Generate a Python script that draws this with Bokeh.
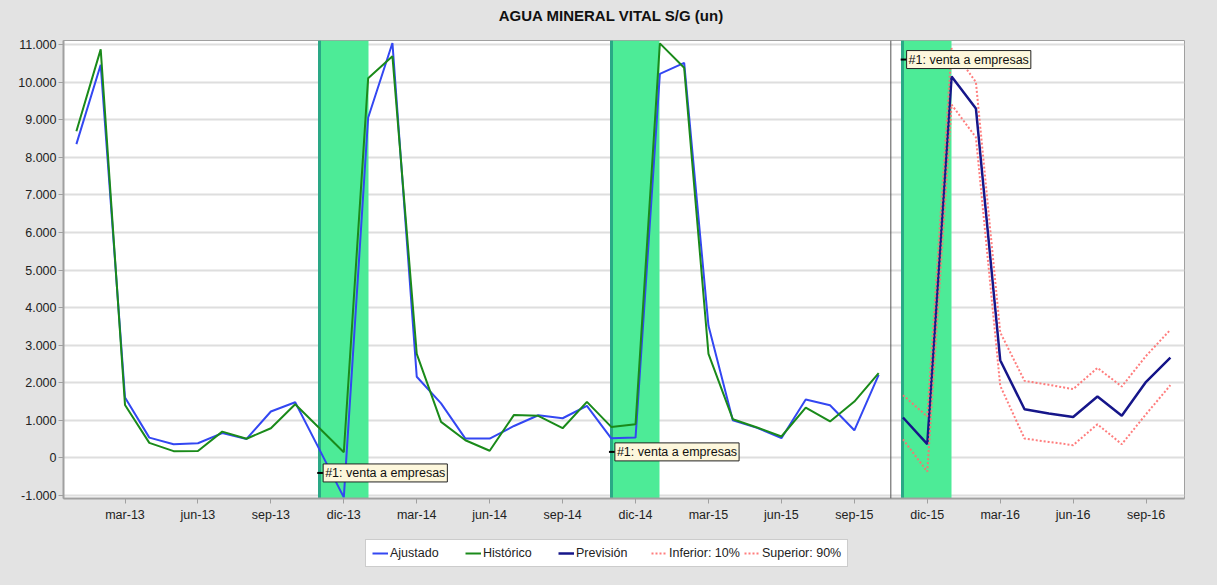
from bokeh.plotting import figure
from bokeh.layouts import column
from bokeh.models import (Range1d, FixedTicker, Legend, LegendItem, Label, Span)
from bokeh.embed import file_html
from bokeh.resources import INLINE

# ---------------- data ----------------
titulo = "AGUA MINERAL VITAL S/G (un)"
meses = ["ene", "feb", "mar", "abr", "may", "jun", "jul", "ago", "sep", "oct", "nov", "dic"]
n_meses = 46  # ene-13 .. oct-16
etiquetas = [f"{meses[i % 12]}-{13 + i // 12}" for i in range(n_meses)]

historico = [8690, 10870, 1410, 400, 180, 185, 700, 510, 790, 1430, 790, 150,
             10100, 10690, 2770, 960, 470, 190, 1145, 1120, 790, 1490, 825, 895,
             11030, 10380, 2770, 1030, 810, 570, 1340, 970, 1500, 2255]
ajustado = [8350, 10460, 1610, 540, 365, 390, 660, 505, 1235, 1480, 220, -1050,
            9050, 11040, 2160, 1450, 515, 515, 850, 1135, 1055, 1385, 520, 540,
            10220, 10510, 3515, 1000, 800, 525, 1555, 1400, 735, 2210]
prevision = [1075, 365, 10150, 9300, 2600, 1295, 1180, 1090, 1635, 1120, 2025, 2670]
superior = [1670, 1100, 10900, 10000, 3340, 2050, 1945, 1830, 2395, 1900, 2715, 3410]
inferior = [495, -365, 9400, 8530, 1920, 515, 425, 340, 895, 365, 1165, 1935]

inicio_prev = len(historico)           # nov-15
eventos_ini = [10, 22, 34]             # nov-13, nov-14, nov-15
eventos_fin = [12, 24, 36]
evento_texto = "#1: venta a empresas"
evento_y = [-400, 160, 10600]

y_ticks = list(range(-1000, 12000, 1000))
x_ticks = [i for i in range(n_meses) if i % 3 == 2]

x_hist = list(range(len(historico)))
x_prev = list(range(inicio_prev, inicio_prev + len(prevision)))

# ---------------- styles ----------------
FONT = "Liberation Sans"
BG = "#e3e3e3"
W = 1217
estilos = {
    "Ajustado": dict(line_color="#3347f2", line_width=2),
    "Histórico": dict(line_color="#1a8a1a", line_width=2),
    "Previsión": dict(line_color="#16168a", line_width=2.5),
    "Inferior: 10%": dict(line_color="#ff6f6f", line_width=2, line_dash="2 2", line_alpha=0.9),
    "Superior: 90%": dict(line_color="#ff6f6f", line_width=2, line_dash="2 2", line_alpha=0.9),
}


def strip(height):
    f = figure(width=W, height=height, output_backend="svg", toolbar_location=None,
               x_range=Range1d(0, 1121), y_range=Range1d(0, height),
               x_axis_location=None, y_axis_location=None,
               min_border_left=0, min_border_right=0, min_border_top=0, min_border_bottom=0,
               background_fill_color=None, border_fill_color=None, outline_line_color=None)
    f.grid.visible = False
    return f


# ---------------- title strip ----------------
t = strip(34)
t.add_layout(Label(x=548, y=19, text=titulo, text_font=FONT, text_font_size="15px",
                   text_font_style="bold", text_color="#111111",
                   text_align="center", text_baseline="middle"))

# ---------------- main figure ----------------
p = figure(width=W, height=496, output_backend="svg", toolbar_location=None,
           x_range=Range1d(-0.53, 45.58), y_range=Range1d(-1080, 11107),
           min_border_left=63, min_border_right=33, min_border_top=6, min_border_bottom=32,
           background_fill_color="white", border_fill_color=BG)
p.outline_line_color = "#a0a0a0"
p.outline_line_width = 1

p.xgrid.visible = False
p.ygrid.ticker = FixedTicker(ticks=y_ticks)
p.ygrid.grid_line_color = "#dedede"
p.ygrid.grid_line_width = 2

p.yaxis.ticker = FixedTicker(ticks=y_ticks)
p.yaxis.major_label_overrides = {v: f"{v:,}".replace(",", ".") for v in y_ticks}
p.xaxis.ticker = FixedTicker(ticks=x_ticks)
p.xaxis.major_label_overrides = {i: etiquetas[i] for i in x_ticks}
for ax in (p.xaxis, p.yaxis):
    ax.axis_line_color = "#a0a0a0"
    ax.axis_line_width = 2
    ax.major_tick_line_color = "#a0a0a0"
    ax.major_tick_out = 5
    ax.major_tick_in = 0
    ax.minor_tick_line_color = None
    ax.major_label_text_font = FONT
    ax.major_label_text_font_size = "12.5px"
    ax.major_label_text_color = "#222222"
p.yaxis.major_label_standoff = 2
p.xaxis.major_label_standoff = 4

# event bands (glyphs, drawn before the lines)
p.vstrip(x0=eventos_ini, x1=eventos_fin, fill_color="#4deb97", fill_alpha=1.0, line_color=None)
p.vspan(x=eventos_ini, line_color="#2aa886", line_width=3)

# separator between history and forecast
p.add_layout(Span(location=inicio_prev - 0.5, dimension="height",
                  line_color="#555555", line_width=1))

# lines
p.line(x_hist, ajustado, **estilos["Ajustado"])
p.line(x_hist, historico, **estilos["Histórico"])
p.line(x_prev, prevision, **estilos["Previsión"])
p.line(x_prev, inferior, **estilos["Inferior: 10%"])
p.line(x_prev, superior, **estilos["Superior: 90%"])

# event labels
for a, yv in zip(eventos_ini, evento_y):
    p.add_layout(Label(x=a + 0.15, y=yv, text=evento_texto, text_font=FONT,
                       text_font_size="12.5px", text_color="#111111",
                       text_baseline="middle", background_fill_color="#fdf7dc",
                       border_line_color="#222222", border_line_width=1, padding=2))
p.scatter(x=[a + 0.05 for a in eventos_ini], y=evento_y, marker="dash", size=7,
          line_color="black", line_width=2, level="annotation")

# ---------------- legend strip ----------------
q = strip(55)
items = [LegendItem(label=nombre, renderers=[q.line([-5, -4], [-5, -4], **st)])
         for nombre, st in estilos.items()]
legend = Legend(items=items, orientation="horizontal", location=(302, 18),
                label_text_font=FONT, label_text_font_size="12.5px",
                label_text_color="#222222",
                glyph_width=16, glyph_height=14, label_height=14, label_width=72,
                label_standoff=2, spacing=3, padding=6, margin=0,
                border_line_color="#9a9a9a", border_line_width=1,
                background_fill_color="white", background_fill_alpha=1.0)
q.add_layout(legend)

layout = column(t, p, q, spacing=0, styles={"background-color": BG})
open("out.html", "w").write(file_html(layout, INLINE))
